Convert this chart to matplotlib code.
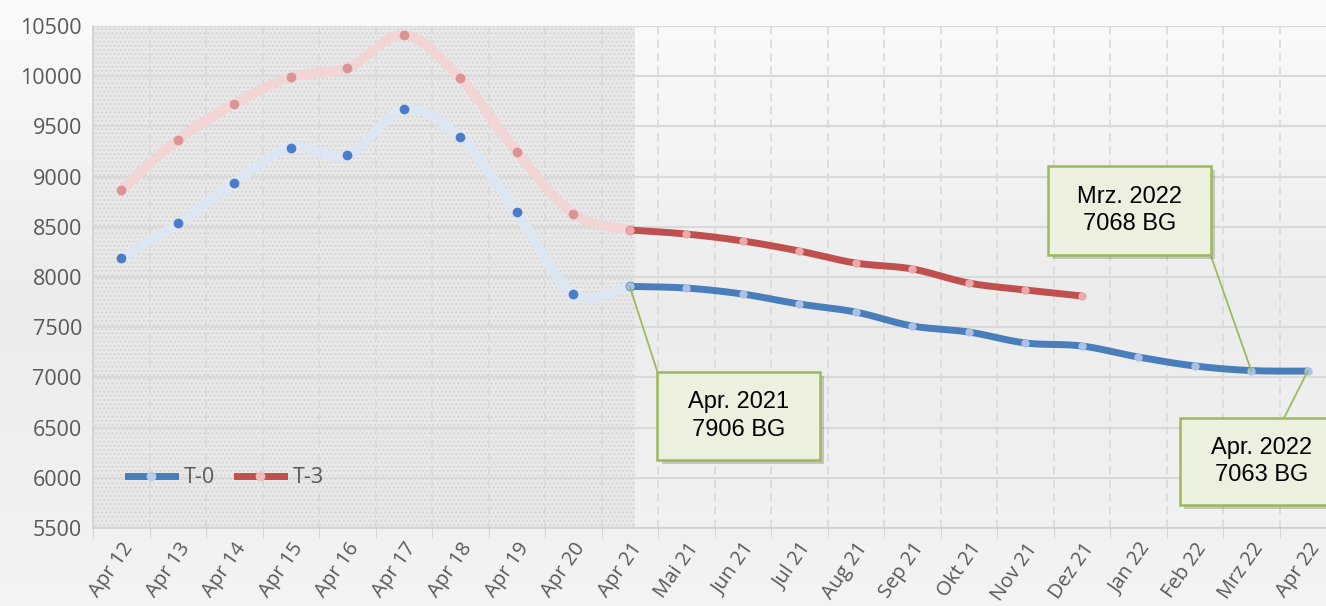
import numpy as np
import matplotlib.pyplot as plt
from matplotlib.lines import Line2D
from matplotlib.patches import Rectangle
import matplotlib.patheffects as pe

# Kategorien und Werte
monate = ["Apr 12", "Apr 13", "Apr 14", "Apr 15", "Apr 16", "Apr 17", "Apr 18",
          "Apr 19", "Apr 20", "Apr 21", "Mai 21", "Jun 21", "Jul 21", "Aug 21",
          "Sep 21", "Okt 21", "Nov 21", "Dez 21", "Jan 22", "Feb 22", "Mrz 22", "Apr 22"]
t0 = [8190, 8535, 8940, 9288, 9215, 9670, 9391, 8644, 7834, 7906,
      7890, 7830, 7731, 7651, 7512, 7452, 7343, 7313, 7203, 7114, 7068, 7063]
t3 = [8866, 9365, 9726, 9992, 10079, 10410, 9979, 9248, 8631, 8468,
      8428, 8359, 8259, 8139, 8080, 7940, 7871, 7811]
split = 9  # ab Apr 21 durchgezogen

box_texte = ["Apr. 2021\n7906 BG", "Mrz. 2022\n7068 BG", "Apr. 2022\n7063 BG"]
box_punkte = [9, 20, 21]


def glatt(x, y, n=20):
    # Excel-artige geglaettete Linie (Bezier / Catmull-Rom)
    x = np.asarray(x, float)
    y = np.asarray(y, float)
    if len(x) < 3:
        return x, y
    px = np.r_[x[0], x, x[-1]]
    py = np.r_[y[0], y, y[-1]]
    xs, ys = [], []
    t = np.linspace(0, 1, n)
    for i in range(1, len(px) - 2):
        p0 = np.array([px[i], py[i]])
        p3 = np.array([px[i + 1], py[i + 1]])
        p1 = p0 + (np.array([px[i + 1], py[i + 1]]) - np.array([px[i - 1], py[i - 1]])) / 6
        p2 = p3 - (np.array([px[i + 2], py[i + 2]]) - np.array([px[i], py[i]])) / 6
        b = ((1 - t) ** 3)[:, None] * p0 + (3 * (1 - t) ** 2 * t)[:, None] * p1 \
            + (3 * (1 - t) * t ** 2)[:, None] * p2 + (t ** 3)[:, None] * p3
        xs.extend(b[:, 0])
        ys.extend(b[:, 1])
    return np.array(xs), np.array(ys)


fig = plt.figure(figsize=(13.26, 6.06), dpi=100)
fig.patch.set_facecolor("#f3f3f3")

# Hintergrundverlauf
bg = fig.add_axes([0, 0, 1, 1], zorder=-5)
grad = np.interp(np.linspace(0, 1, 200), [0, 0.5, 1], [0.985, 0.925, 0.955])
bg.imshow(np.repeat(grad[:, None], 3, axis=1)[:, None, :].repeat(2, axis=1),
          aspect="auto", extent=[0, 1, 0, 1], origin="upper")
bg.axis("off")

ax = fig.add_axes([93 / 1326, 78 / 606, 1243 / 1326, 502 / 606])
ax.set_facecolor("none")
ax.set_xlim(-0.5, len(monate) - 0.5)
ax.set_ylim(5500, 10500)

# schraffierter Bereich (Vergangenheit)
ax.axvspan(-0.5, 9.1, facecolor="#e9e9e9", edgecolor="#d6d6d6", hatch="....", lw=0, zorder=0)

x = np.arange(len(monate))

# verblasste Vergangenheit
for vals, lc, mc in [(t0, "#dde7f4", "#4a7dc9"), (t3, "#f2d5d5", "#d99493")]:
    xs, ys = glatt(x[:split + 1], vals[:split + 1])
    ax.plot(xs, ys, color=lc, lw=7, solid_capstyle="round", zorder=2)
    ax.plot(x[:split + 1], vals[:split + 1], "o", color=mc, ms=6, zorder=3)

# Prognose
for vals, lc, mc in [(t0, "#4a7ebb", "#a9c2e6"), (t3, "#c0504d", "#eba9a9")]:
    xx = x[split:len(vals)]
    xs, ys = glatt(xx, vals[split:])
    ax.plot(xs, ys, color=lc, lw=5, solid_capstyle="round", zorder=4)
    ax.plot(xx, vals[split:], "o", color=mc, ms=5, zorder=5)

# Achsen
tickfont = ["Open Sans", "DejaVu Sans"]
ax.set_yticks(np.arange(5500, 10501, 500))
ax.set_xticks(x)
ax.set_xticklabels(monate, rotation=55, ha="right", rotation_mode="anchor")
ax.set_xticks(np.arange(-0.5, len(monate), 1), minor=True)
ax.tick_params(axis="x", which="major", length=0, pad=8, labelsize=14.5, labelcolor="#595959")
ax.tick_params(axis="x", which="minor", length=7, color="#d0d0d0")
ax.tick_params(axis="y", length=0, pad=8, labelsize=15.5, labelcolor="#595959")
for lab in ax.get_xticklabels() + ax.get_yticklabels():
    lab.set_family(tickfont)
ax.grid(axis="y", color="#d9d9d9", lw=1.5, zorder=1)
ax.grid(axis="x", which="minor", color="#d9d9d9", lw=1.2, ls=(0, (5, 3)), zorder=1)
ax.set_axisbelow(True)
for s in ["top", "right"]:
    ax.spines[s].set_visible(False)
for s in ["left", "bottom"]:
    ax.spines[s].set_color("#d0d0d0")
    ax.spines[s].set_linewidth(1.2)

# Legende
handles = [Line2D([], [], color="#4a7ebb", lw=5, marker="o", ms=6, mfc="#b8cde8", mec="#b8cde8"),
           Line2D([], [], color="#c0504d", lw=5, marker="o", ms=6, mfc="#efbcbc", mec="#efbcbc")]
leg = ax.legend(handles, ["T-0", "T-3"], ncol=2, frameon=False, loc="center left",
                bbox_to_anchor=(0.028, 0.1), borderpad=0, borderaxespad=0,
                handlelength=2.2, columnspacing=1.0, handletextpad=0.4,
                prop={"family": tickfont, "size": 15.5})
for t in leg.get_texts():
    t.set_color("#595959")

# Beschriftungskaesten: (links, rechts, unten, oben) in Datenkoordinaten, Ankerpunkt der Linie
boxen = [(9.49, 12.37, 6177, 7054, (9.49, 7054)),
         (16.41, 19.28, 8219, 9106, (19.28, 8219)),
         (18.74, 21.63, 5729, 6596, (20.58, 6596))]
for txt, i, (x0, x1, y0, y1, anker) in zip(box_texte, box_punkte, boxen):
    r = Rectangle((x0, y0), x1 - x0, y1 - y0, fc="#ebf1de", ec="#9bbb59", lw=1.8,
                  zorder=8, clip_on=False)
    r.set_path_effects([pe.SimplePatchShadow(offset=(3, -3), alpha=0.25), pe.Normal()])
    ax.add_patch(r)
    ax.plot([anker[0], x[i]], [anker[1], t0[i]], color="#9bbb59", lw=1.3, zorder=7)
    ax.text((x0 + x1) / 2, (y0 + y1) / 2, txt, ha="center", va="center", fontsize=17,
            family=["Liberation Sans Narrow", "Liberation Sans", "DejaVu Sans"],
            color="black", linespacing=1.3, zorder=9)

fig.savefig("out.png", dpi=100, facecolor=fig.get_facecolor())
